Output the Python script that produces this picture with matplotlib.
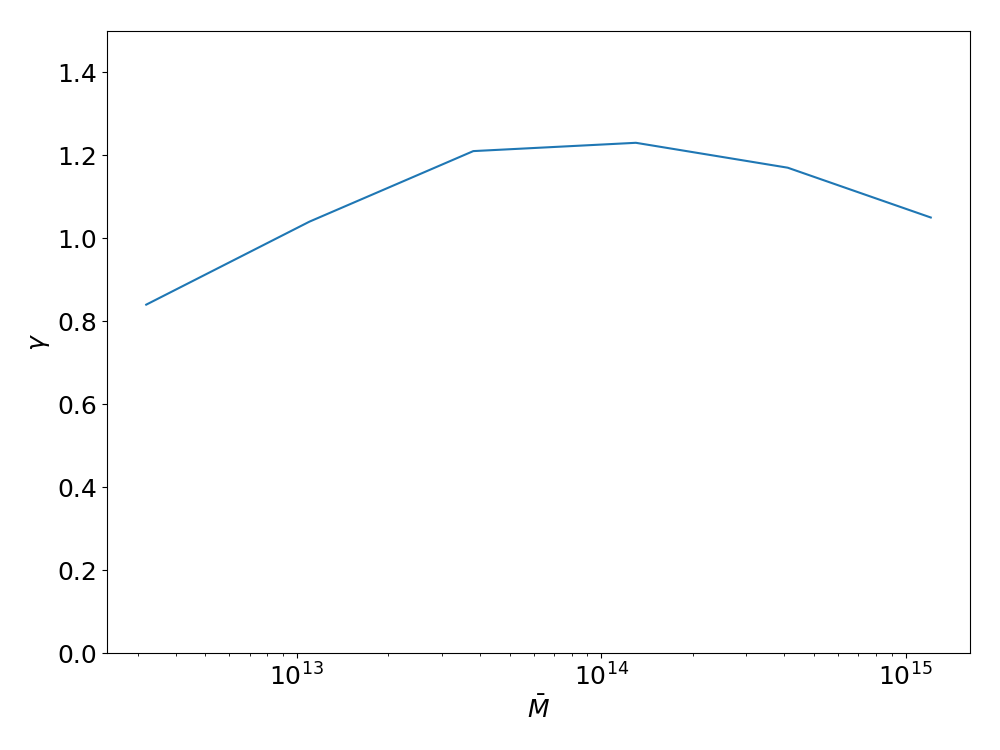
import matplotlib
matplotlib.use("Agg")
import matplotlib.pyplot as plt
import numpy as np

mass = [3.2e12, 1.1e13, 3.8e13, 1.3e14, 4.1e14, 1.21e15]
gamma = [0.84, 1.04, 1.21, 1.23, 1.17, 1.05]

plt.rcParams["font.size"] = 18

fig, ax = plt.subplots(figsize=(10, 7.5), dpi=100)
ax.plot(mass, gamma)
ax.set_xscale("log")
ax.set_ylim(0, 1.5)
ax.set_xlabel(r"$\bar{M}$")
ax.set_ylabel(r"$\gamma$")

fig.subplots_adjust(left=0.107, right=0.97, top=0.959, bottom=0.129)
fig.savefig("out.png", dpi=100)
